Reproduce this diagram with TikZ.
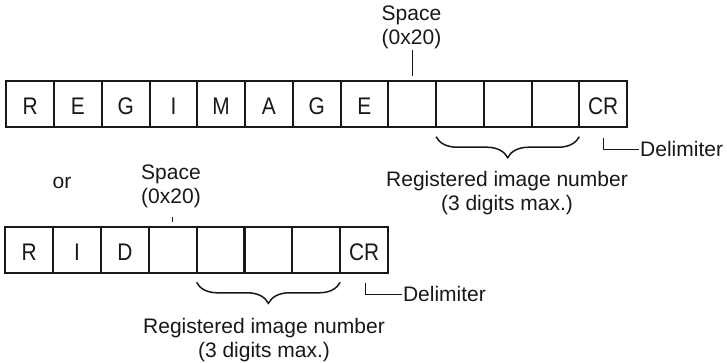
\documentclass[tikz,border=0pt]{standalone}
\usepackage{fontspec}
\setmainfont{Liberation Sans}
\newfontfamily\cellfont[FakeStretch=0.87]{Liberation Sans}
\usetikzlibrary{decorations.pathreplacing,calc}
\definecolor{ink}{HTML}{1A1718}
\begin{document}
\begin{tikzpicture}[x=1bp,y=-1bp,
  cell/.style={draw=ink, line width=2.1bp, minimum width=47.75bp, minimum height=46bp,
    inner sep=0pt, outer sep=0pt, text height=21bp, text depth=0pt,
    font=\cellfont\fontsize{24bp}{27bp}\selectfont, text=ink},
  lbl/.style={font=\fontsize{21bp}{24bp}\selectfont, text=ink, inner sep=0pt, outer sep=0pt},
  thin/.style={draw=ink, line width=1.1bp},
  brc/.style={draw=ink, line width=1.5bp, decorate, decoration={brace, amplitude=21bp}}]
\useasboundingbox (0,0) rectangle (727,362);

% ---- top row: REGIMAGE ----
\node[cell,anchor=north west] (t1) at (6.3,81.3) {R};
\node[cell,anchor=west] (t2) at (t1.east) {E};
\node[cell,anchor=west] (t3) at (t2.east) {G};
\node[cell,anchor=west] (t4) at (t3.east) {I};
\node[cell,anchor=west] (t5) at (t4.east) {M};
\node[cell,anchor=west] (t6) at (t5.east) {A};
\node[cell,anchor=west] (t7) at (t6.east) {G};
\node[cell,anchor=west] (t8) at (t7.east) {E};
\node[cell,anchor=west] (t9) at (t8.east) {};
\node[cell,anchor=west] (t10) at (t9.east) {};
\node[cell,anchor=west] (t11) at (t10.east) {};
\node[cell,anchor=west] (t12) at (t11.east) {};
\node[cell,anchor=west] (t13) at (t12.east) {CR};

\node[lbl,anchor=base] (sp1) at (411.5,20.7) {\begin{tabular}[t]{@{}c@{}}Space\\(0x20)\end{tabular}};
\coordinate (tk1a) at ([yshift=31.3bp]t9.north);
\coordinate (tk1b) at ([yshift=5.3bp]t9.north);
\draw[thin] (tk1a) -- (tk1b);

\draw[brc] ([yshift=-9.4bp]t12.south east) -- ([yshift=-9.4bp]t10.south west);
\node[lbl,anchor=base] (reg1) at (507,186) {\begin{tabular}[t]{@{}c@{}}Registered image number\\(3 digits max.)\end{tabular}};

\node[lbl,anchor=base west] (dl1) at (640.2,156.7) {Delimiter};
\coordinate (d1s) at ([yshift=-10.7bp]t13.south);
\draw[thin,shorten >=1.2bp] (d1s) |- (dl1.west);

% ---- "or" ----
\node[lbl,anchor=base] (or) at (62,188.3) {or};

% ---- bottom row: RID ----
\node[cell,anchor=north west] (b1) at (5.3,226.8) {R};
\node[cell,anchor=west,minimum width=47.85bp] (b2) at (b1.east) {I};
\node[cell,anchor=west,minimum width=47.85bp] (b3) at (b2.east) {D};
\node[cell,anchor=west,minimum width=47.85bp] (b4) at (b3.east) {};
\node[cell,anchor=west,minimum width=47.85bp] (b5) at (b4.east) {};
\node[cell,anchor=west,minimum width=47.85bp] (b6) at (b5.east) {};
\node[cell,anchor=west,minimum width=47.85bp] (b7) at (b6.east) {};
\node[cell,anchor=west,minimum width=47.85bp] (b8) at (b7.east) {CR};

\node[lbl,anchor=base] (sp2) at (171,179.3) {\begin{tabular}[t]{@{}c@{}}Space\\(0x20)\end{tabular}};
\coordinate (tk2a) at ([yshift=9.5bp]b4.north);
\coordinate (tk2b) at ([yshift=5bp]b4.north);
\draw[thin] (tk2a) -- (tk2b);

\draw[brc] ([yshift=-9.5bp]b7.south east) -- ([yshift=-9.5bp]b5.south west);
\node[lbl,anchor=base] (reg2) at (264,333.3) {\begin{tabular}[t]{@{}c@{}}Registered image number\\(3 digits max.)\end{tabular}};

\node[lbl,anchor=base west] (dl2) at (403,301.6) {Delimiter};
\coordinate (d2s) at ([xshift=1.2bp,yshift=-10.5bp]b8.south);
\draw[thin,shorten >=1.2bp] (d2s) |- (dl2.west);
\end{tikzpicture}
\end{document}
